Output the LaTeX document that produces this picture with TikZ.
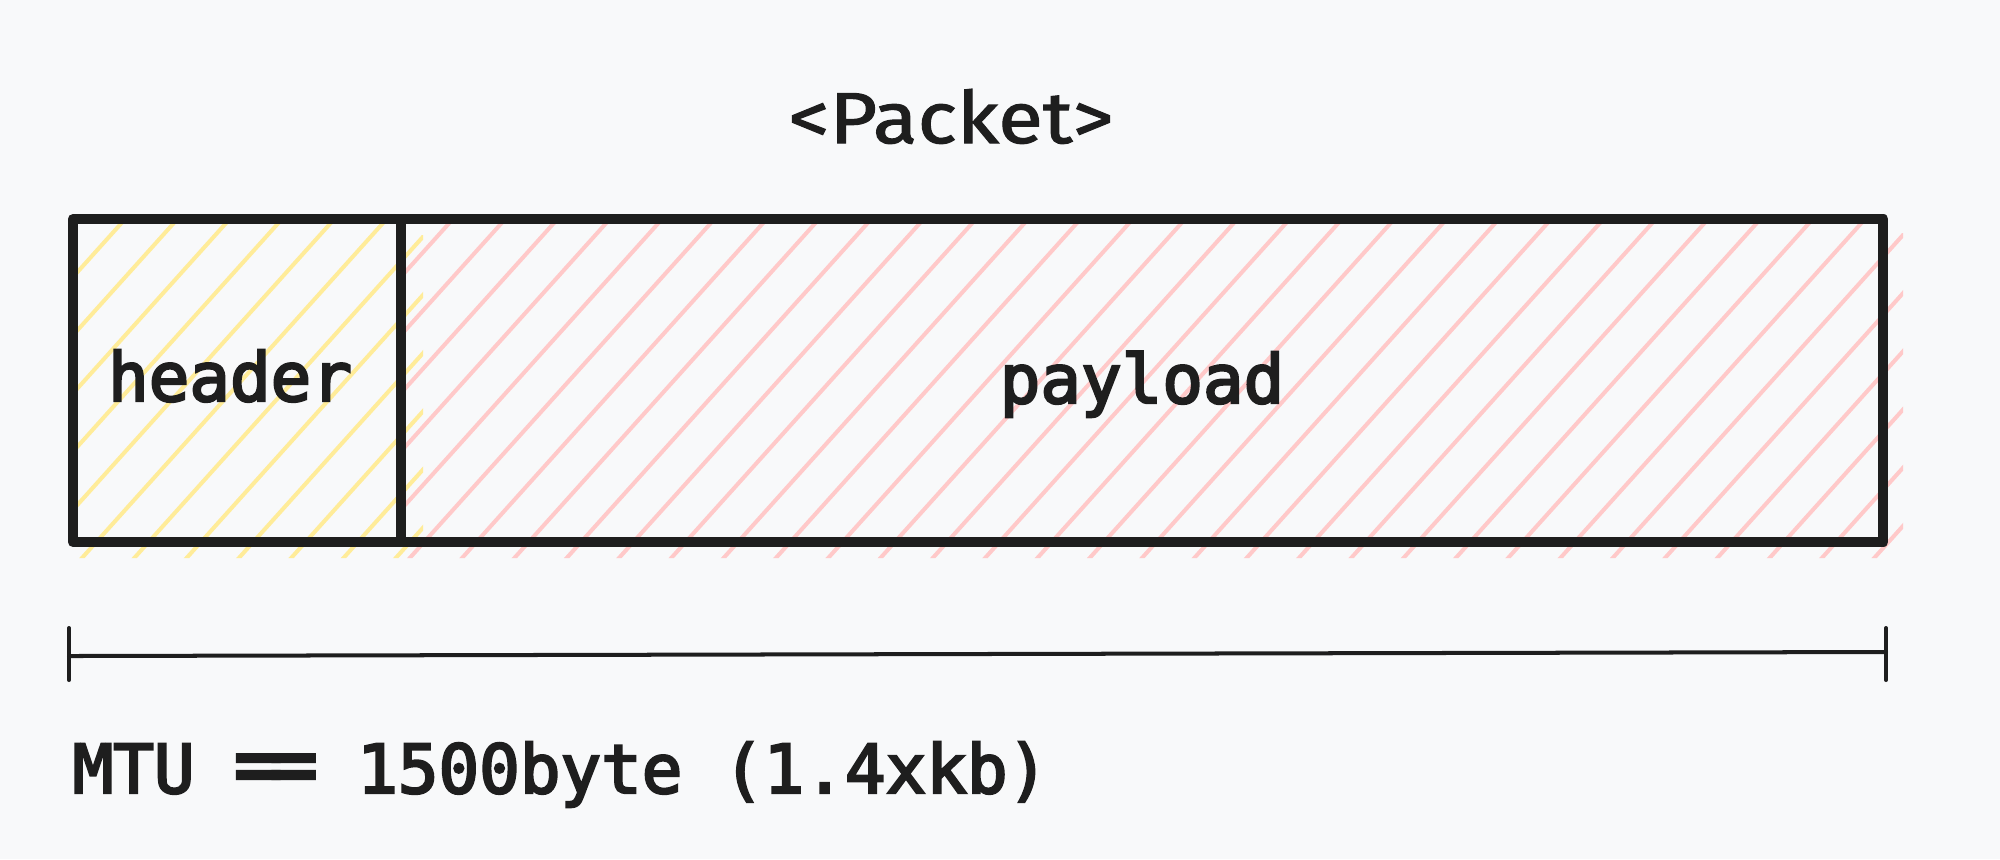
\documentclass[tikz,border=0pt]{standalone}
\usepackage{fontspec}
\usepackage{graphicx}
\newfontfamily\titlefont{Fira Sans}[FakeStretch=1.14, FakeBold=1.5]
\newfontfamily\monofont{DejaVu Sans Mono}[FakeBold=3.5]
\definecolor{bgc}{HTML}{F8F9FA}
\definecolor{ink}{HTML}{1E1E1E}
\definecolor{hyellow}{HTML}{FFEC99}
\definecolor{hpink}{HTML}{FFC9C9}
\newcommand\ligeq{\makebox[1.204em]{\scalebox{1.2}[1.25]{=}\kern-0.2em\scalebox{1.2}[1.25]{=}}}
\tikzset{
  boxpart/.style={draw=ink, line width=2.85pt, line join=round, rectangle, inner sep=0pt},
  hatchline/.style={line width=1.14pt, line cap=round},
  monolabel/.style={text=ink, inner sep=0pt, anchor=base, font=\monofont\fontsize{19.2pt}{23pt}\selectfont},
  dimline/.style={draw=ink, line width=1.14pt, line cap=round}
}
\begin{document}
\begin{tikzpicture}[x=0.01cm, y=-0.01cm]
\fill[bgc] (0,0) rectangle (2000,859);
\useasboundingbox (0,0) rectangle (2000,859);
% header hatching
\begin{scope}
  \clip (73,219) -- (401,219) -- (401,235) -- (423,235) -- (423,558) -- (73,558) -- cycle;
  \foreach \k in {-2,...,13} {
    \pgfmathsetmacro\xa{121.7+52.3*\k}
    \draw[hatchline, hyellow] (\xa+25,195) -- (\xa-330,590);
  }
\end{scope}
% payload hatching
\begin{scope}
  \clip (401,219) -- (1883,219) -- (1883,233) -- (1903,233) -- (1903,558) -- (401,558) -- cycle;
  \foreach \k in {-27,...,10} {
    \pgfmathsetmacro\xa{1757+52.3*\k}
    \draw[hatchline, hpink] (\xa+25,195) -- (\xa-330,590);
  }
\end{scope}
% boxes
\node[boxpart, minimum width=3.28cm, minimum height=3.23cm] (header) at (237,380.5) {};
\node[boxpart, minimum width=14.82cm, minimum height=3.23cm] (payload) at (1142,380.5) {};
\node[monolabel] (htext) at (230,401) {header};
\node[monolabel] (ptext) at (1142,403) {payload};
% title
\node[text=ink, inner sep=0pt, anchor=base, font=\titlefont\fontsize{20.5pt}{24pt}\selectfont] (title) at (951,143) {<Packet>};
% dimension line
\coordinate (dl) at (69,656);
\coordinate (dr) at (1886,652);
\coordinate (dlt) at (69,628);
\coordinate (dlb) at (69,680);
\coordinate (drt) at (1886,628);
\coordinate (drb) at (1886,680);
\draw[dimline] (dl) -- (dr);
\draw[dimline] (dlt) -- (dlb);
\draw[dimline] (drt) -- (drb);
% MTU text
\node[monolabel, anchor=base west] (mtu) at (72,793) {MTU \ligeq{} 1500byte (1.4xkb)};
\end{tikzpicture}
\end{document}
